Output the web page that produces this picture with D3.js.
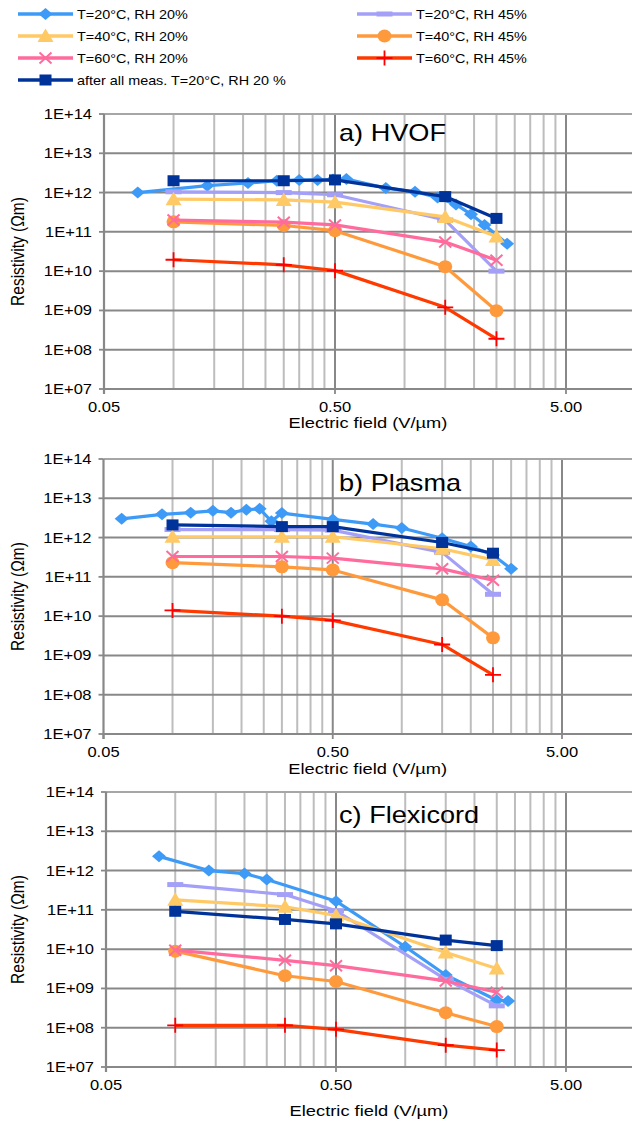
<!DOCTYPE html>
<html>
<head>
<meta charset="utf-8">
<script src="https://cdn.jsdelivr.net/npm/d3@7"></script>
<style>
  body { margin: 0; background: #fff; }
  text { font-family: "Liberation Sans", Arial, sans-serif; fill: #000; }
</style>
</head>
<body>
<svg id="chart" width="632" height="1122"></svg>
<script>
// series (legend order)
const seriesNames = ["T=20°C, RH 20%", "T=20°C, RH 45%", "T=40°C, RH 20%", "T=40°C, RH 45%",
  "T=60°C, RH 20%", "T=60°C, RH 45%", "after all meas. T=20°C, RH 20 %"];
const seriesColors = ["#3d9bf7", "#a4a0f8", "#ffc966", "#ff9a3c", "#ff6b9d", "#ff3a00", "#003399"];
const markerColors = ["#3d9bf7", "#a4a0f8", "#ffc966", "#ff9a3c", "#ff6b9d", "#ff0000", "#003399"];
const seriesMarkers = ["diamond", "dash", "triangle", "circle", "cross", "plus", "square"];

const panelTitles = ["a) HVOF", "b) Plasma", "c) Flexicord"];
const xTickValues = [0.05, 0.5, 5];
const xTickLabels = ["0.05", "0.50", "5.00"];
const yTickValues = [1e7, 1e8, 1e9, 1e10, 1e11, 1e12, 1e13, 1e14];
const yTickLabels = ["1E+07", "1E+08", "1E+09", "1E+10", "1E+11", "1E+12", "1E+13", "1E+14"];
const minorGrid = [0.1, 0.15, 0.2, 0.25, 0.3, 0.35, 0.4, 0.45, 1, 1.5, 2, 2.5, 3, 3.5, 4, 4.5];

// common field steps (V/µm)
const fieldMain = [0.1, 0.3, 0.5, 1.5, 2.5];

// a) HVOF
const hvofFieldT20 = [0.07, 0.14, 0.21, 0.28, 0.35, 0.42, 0.49, 0.56, 0.83, 1.11, 1.39, 1.67, 1.94, 2.22, 2.78];
const hvofT20RH20 = [1.0e12, 1.5e12, 1.75e12, 2.0e12, 2.1e12, 2.1e12, 2.15e12, 2.2e12, 1.3e12, 1.05e12, 7.5e11, 5.0e11, 2.8e11, 1.5e11, 5.0e10];
const hvofT20RH45 = [1.05e12, 1.0e12, 8.8e11, 2.0e11, 1.0e10];
const hvofT40RH20 = [6.8e11, 6.5e11, 5.7e11, 2.4e11, 7.6e10];
const hvofT40RH45 = [1.8e11, 1.45e11, 1.07e11, 1.3e10, 9.8e8];
const hvofT60RH20 = [2.0e11, 1.76e11, 1.5e11, 5.5e10, 1.9e10];
const hvofT60RH45 = [1.95e10, 1.45e10, 1.03e10, 1.2e9, 1.9e8];
const hvofAfter = [2.0e12, 2.0e12, 2.1e12, 7.9e11, 2.2e11];

// b) Plasma
const plasmaFieldT20 = [0.06, 0.09, 0.12, 0.15, 0.18, 0.21, 0.24, 0.27, 0.30, 0.5, 0.75, 1.0, 1.5, 2.0, 2.5, 3.0];
const plasmaT20RH20 = [3.0e12, 3.9e12, 4.3e12, 4.8e12, 4.3e12, 5.1e12, 5.4e12, 2.6e12, 4.2e12, 2.9e12, 2.2e12, 1.75e12, 9.6e11, 5.9e11, 3.6e11, 1.6e11];
const plasmaT20RH45 = [1.6e12, 1.6e12, 1.55e12, 4.2e11, 3.6e10];
const plasmaT40RH20 = [1.05e12, 1.05e12, 1.05e12, 5.2e11, 2.7e11];
const plasmaT40RH45 = [2.3e11, 1.8e11, 1.5e11, 2.6e10, 2.8e9];
const plasmaT60RH20 = [3.3e11, 3.3e11, 3.0e11, 1.6e11, 8.2e10];
const plasmaT60RH45 = [1.4e10, 1.0e10, 7.8e9, 1.9e9, 3.2e8];
const plasmaAfter = [2.1e12, 1.9e12, 1.9e12, 7.5e11, 4.0e11];

// c) Flexicord
const flexFieldT20 = [0.085, 0.14, 0.2, 0.25, 0.5, 1.0, 1.5, 2.5, 2.8];
const flexT20RH20 = [2.3e12, 1.0e12, 8.4e11, 5.9e11, 1.66e11, 1.15e10, 2.2e9, 5.0e8, 4.8e8];
const flexT20RH45 = [4.4e11, 2.45e11, 9.5e10, 1.7e9, 3.6e8];
const flexT40RH20 = [1.8e11, 1.2e11, 7.2e10, 8.2e9, 3.2e9];
const flexT40RH45 = [8.9e9, 2.1e9, 1.5e9, 2.4e8, 1.07e8];
const flexT60RH20 = [9.4e9, 5.2e9, 3.8e9, 1.55e9, 8.0e8];
const flexT60RH45 = [1.15e8, 1.15e8, 9.1e7, 3.6e7, 2.7e7];
const flexAfter = [9.2e10, 5.7e10, 4.4e10, 1.7e10, 1.23e10];

const panelData = [
  [[hvofFieldT20, hvofT20RH20], [fieldMain, hvofT20RH45], [fieldMain, hvofT40RH20], [fieldMain, hvofT40RH45],
   [fieldMain, hvofT60RH20], [fieldMain, hvofT60RH45], [fieldMain, hvofAfter]],
  [[plasmaFieldT20, plasmaT20RH20], [fieldMain, plasmaT20RH45], [fieldMain, plasmaT40RH20], [fieldMain, plasmaT40RH45],
   [fieldMain, plasmaT60RH20], [fieldMain, plasmaT60RH45], [fieldMain, plasmaAfter]],
  [[flexFieldT20, flexT20RH20], [fieldMain, flexT20RH45], [fieldMain, flexT40RH20], [fieldMain, flexT40RH45],
   [fieldMain, flexT60RH20], [fieldMain, flexT60RH45], [fieldMain, flexAfter]]
];

// layout (pixels)
const W = 632;
const SX = 1.18; // the source text is stretched horizontally
const panelLayout = [
  { top: 114, left: 104, x5: 566, titleY: 141, xTitleY: 428 },
  { top: 459, left: 103.5, x5: 562, titleY: 491, xTitleY: 774 },
  { top: 792, left: 106, x5: 566, titleY: 823, xTitleY: 1116 }
];
const plotH = 275;
const gridDark = "#888888";
const gridLight = "#bdbdbd";

const svg = d3.select("#chart");

function addText(parent, x, y, str, size, anchor, rotate) {
  return parent.append("text")
    .attr("transform", `translate(${x},${y}) scale(${SX},1)` + (rotate ? " rotate(-90)" : ""))
    .attr("font-size", size)
    .attr("text-anchor", anchor || "start")
    .text(str);
}

function drawMarker(g, type, color, x, y) {
  switch (type) {
    case "diamond":
      g.append("path").attr("d", `M${x - 7},${y} L${x},${y - 6} L${x + 7},${y} L${x},${y + 6} Z`).attr("fill", color);
      break;
    case "square":
      g.append("rect").attr("x", x - 6).attr("y", y - 5.5).attr("width", 12).attr("height", 11).attr("fill", color);
      break;
    case "triangle":
      g.append("path").attr("d", `M${x},${y - 7.5} L${x + 8},${y + 6} L${x - 8},${y + 6} Z`).attr("fill", color);
      break;
    case "circle":
      g.append("ellipse").attr("cx", x).attr("cy", y).attr("rx", 7).attr("ry", 6.5).attr("fill", color);
      break;
    case "dash":
      g.append("rect").attr("x", x - 8).attr("y", y - 2.5).attr("width", 16).attr("height", 5).attr("fill", color);
      break;
    case "cross":
      g.append("path").attr("d", `M${x - 6},${y - 5.5} L${x + 6},${y + 5.5} M${x - 6},${y + 5.5} L${x + 6},${y - 5.5}`)
        .attr("stroke", color).attr("stroke-width", 2).attr("fill", "none");
      break;
    case "plus":
      g.append("path").attr("d", `M${x},${y - 7.5} L${x},${y + 7.5} M${x - 8},${y} L${x + 8},${y}`)
        .attr("stroke", color).attr("stroke-width", 1.8).attr("fill", "none");
      break;
  }
}

// legend
const legendRows = [14, 36, 58, 80];
const legend = svg.append("g");
seriesNames.forEach((name, i) => {
  const col = i === 6 ? 0 : i % 2;
  const row = i === 6 ? 3 : Math.floor(i / 2);
  const x0 = col === 0 ? 18 : 357;
  const y = legendRows[row];
  legend.append("line").attr("x1", x0).attr("x2", x0 + 55).attr("y1", y).attr("y2", y)
    .attr("stroke", seriesColors[i]).attr("stroke-width", 3.5);
  drawMarker(legend, seriesMarkers[i], markerColors[i], x0 + 27.5, y);
  addText(legend, x0 + 59, y + 4.5, name, 12.2);
});

panelLayout.forEach((p, pi) => {
  const bottom = p.top + plotH;
  const x = d3.scaleLog().domain([0.05, 5]).range([p.left, p.x5]);
  const y = d3.scaleLog().domain([1e7, 1e14]).range([bottom, p.top]);
  const g = svg.append("g");

  // minor vertical gridlines
  g.selectAll(".minor").data(minorGrid).enter().append("line")
    .attr("x1", d => x(d)).attr("x2", d => x(d)).attr("y1", p.top).attr("y2", bottom)
    .attr("stroke", gridLight).attr("stroke-width", 2);
  // major vertical gridlines
  g.selectAll(".major").data(xTickValues.slice(1)).enter().append("line")
    .attr("x1", d => x(d)).attr("x2", d => x(d)).attr("y1", p.top).attr("y2", bottom)
    .attr("stroke", gridDark).attr("stroke-width", 2);
  // horizontal gridlines
  g.selectAll(".hgrid").data(yTickValues.slice(1)).enter().append("line")
    .attr("x1", p.left).attr("x2", W).attr("y1", d => y(d)).attr("y2", d => y(d))
    .attr("stroke", d => d === 1e14 ? "#a6a6a6" : gridDark).attr("stroke-width", 2);

  // axes
  g.append("line").attr("x1", p.left).attr("x2", p.left).attr("y1", p.top).attr("y2", bottom + 5)
    .attr("stroke", gridDark).attr("stroke-width", 2.2);
  g.append("line").attr("x1", p.left).attr("x2", W).attr("y1", bottom).attr("y2", bottom)
    .attr("stroke", gridDark).attr("stroke-width", 2.2);
  g.selectAll(".ytick").data(yTickValues).enter().append("line")
    .attr("x1", p.left - 5).attr("x2", p.left).attr("y1", d => y(d)).attr("y2", d => y(d))
    .attr("stroke", gridDark).attr("stroke-width", 1.8);
  g.selectAll(".xtick").data(xTickValues).enter().append("line")
    .attr("x1", d => x(d)).attr("x2", d => x(d)).attr("y1", bottom).attr("y2", bottom + 5)
    .attr("stroke", gridDark).attr("stroke-width", 1.8);

  yTickValues.forEach((v, i) => addText(g, p.left - 12, y(v) + 5, yTickLabels[i], 14, "end"));
  xTickValues.forEach((v, i) => addText(g, x(v), bottom + 23, xTickLabels[i], 14, "middle"));

  addText(g, (p.left + W) / 2, p.xTitleY, "Electric field (V/µm)", 15.5, "middle");
  addText(g, 24, (p.top + bottom) / 2, "Resistivity (Ωm)", 15.5, "middle", true);
  addText(g, 339, p.titleY, panelTitles[pi], 23, "start");

  // series
  const line = d3.line().x(d => x(d[0])).y(d => y(d[1]));
  panelData[pi].forEach((s, si) => {
    const pts = s[0].map((xv, k) => [xv, s[1][k]]);
    const sg = g.append("g");
    sg.append("path").attr("d", line(pts)).attr("fill", "none")
      .attr("stroke", seriesColors[si]).attr("stroke-width", 3.2).attr("stroke-linejoin", "round");
    pts.forEach(d => drawMarker(sg, seriesMarkers[si], markerColors[si], x(d[0]), y(d[1])));
  });
});
</script>
</body>
</html>
